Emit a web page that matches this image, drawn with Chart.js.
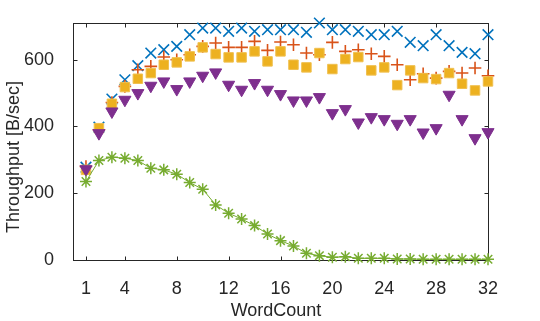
<!DOCTYPE html>
<html>
<head>
<meta charset="utf-8">
<script src="https://cdn.jsdelivr.net/npm/chart.js@4/dist/chart.umd.min.js"></script>
<style>
  body { margin: 0; background: #fff; }
  #wrap { width: 540px; height: 321px; }
</style>
</head>
<body>
<div id="wrap"><canvas id="chart"></canvas></div>
<script>
// --- data ---
const wordCount = [1, 2, 3, 4, 5, 6, 7, 8, 9, 10, 11, 12, 13, 14, 15, 16,
                   17, 18, 19, 20, 21, 22, 23, 24, 25, 26, 27, 28, 29, 30, 31, 32];
const seriesBlue   = [278, 398, 482, 540, 582, 620, 630, 640, 675, 695, 695, 685, 695, 685, 690, 690,
                      690, 682, 710, 690, 690, 685, 675, 675, 685, 652, 642, 675, 642, 622, 618, 675];
const seriesOrange = [280, 390, 472, 520, 570, 580, 608, 600, 615, 640, 650, 637, 637, 655, 628, 653,
                      645, 620, 615, 652, 625, 630, 618, 610, 585, 540, 558, 545, 565, 560, 575, 552];
const seriesYellow = [270, 395, 468, 518, 543, 560, 585, 592, 610, 637, 617, 607, 607, 625, 595, 625,
                      585, 577, 620, 572, 602, 608, 568, 577, 524, 568, 545, 542, 560, 528, 508, 535];
const seriesPurple = [272, 380, 445, 480, 500, 522, 535, 512, 535, 552, 562, 525, 510, 530, 510, 497,
                      478, 478, 488, 440, 452, 412, 428, 422, 408, 422, 382, 395, 495, 422, 365, 383];
const seriesGreen  = [235, 298, 308, 305, 298, 275, 270, 257, 232, 212, 165, 140, 123, 103, 78, 58,
                      42, 20, 13, 8, 10, 5, 5, 5, 3, 3, 2, 2, 2, 2, 2, 2];
const xTicks = [1, 4, 8, 12, 16, 20, 24, 28, 32];
const yTicks = [0, 200, 400, 600];

const FONT = '"Liberation Sans", Arial, sans-serif';
const INK = '#262626';

function pts(values) {
    return values.map((v, i) => ({ x: wordCount[i], y: v }));
}

// box, inward ticks and axis titles (matlab look)
const framePlugin = {
    id: 'frame',
    beforeDatasetsDraw(chart) {
        const { ctx, chartArea, scales } = chart;
        const l = Math.round(chartArea.left) + 0.5;
        const r = Math.round(chartArea.right) + 0.5;
        const t = Math.round(chartArea.top) + 0.5;
        const b = Math.round(chartArea.bottom) + 0.5;
        const tl = 4;
        ctx.save();
        ctx.strokeStyle = INK;
        ctx.lineWidth = 1;
        ctx.strokeRect(l, t, r - l, b - t);
        ctx.beginPath();
        xTicks.forEach(v => {
            const px = Math.round(scales.x.getPixelForValue(v)) + 0.5;
            ctx.moveTo(px, b); ctx.lineTo(px, b - tl);
            ctx.moveTo(px, t); ctx.lineTo(px, t + tl);
        });
        yTicks.forEach(v => {
            const py = Math.round(scales.y.getPixelForValue(v)) + 0.5;
            ctx.moveTo(l, py); ctx.lineTo(l + tl, py);
            ctx.moveTo(r, py); ctx.lineTo(r - tl, py);
        });
        ctx.stroke();

        ctx.fillStyle = INK;
        ctx.font = '18px ' + FONT;
        ctx.textAlign = 'center';
        ctx.textBaseline = 'alphabetic';
        ctx.fillText('WordCount', 276, 316);
        ctx.translate(19, 157);
        ctx.rotate(-Math.PI / 2);
        ctx.fillText('Throughput [B/sec]', 0, 0);
        ctx.restore();
    }
};

const ctx = document.getElementById('chart').getContext('2d');
new Chart(ctx, {
    type: 'scatter',
    data: {
        datasets: [
            {
                label: 'blue', data: pts(seriesBlue), order: 5,
                pointStyle: 'crossRot', pointRadius: 7.5, pointBorderWidth: 1.6,
                borderColor: '#0072BD', backgroundColor: '#0072BD'
            },
            {
                label: 'orange', data: pts(seriesOrange), order: 4,
                pointStyle: 'cross', pointRadius: 6.3, pointBorderWidth: 1.6,
                borderColor: '#D95319', backgroundColor: '#D95319'
            },
            {
                label: 'yellow', data: pts(seriesYellow), order: 3,
                pointStyle: 'rect', pointRadius: 6.7, pointBorderWidth: 1,
                borderColor: '#F0C050', backgroundColor: '#EDB120'
            },
            {
                label: 'purple', data: pts(seriesPurple), order: 2,
                pointStyle: 'triangle', rotation: 180, pointRadius: 7, pointBorderWidth: 1,
                borderColor: '#7E2F8E', backgroundColor: '#7E2F8E'
            },
            {
                label: 'green', data: pts(seriesGreen), order: 1,
                showLine: true, borderWidth: 1, borderColor: '#77AC30',
                pointStyle: 'star', pointRadius: 6, pointBorderWidth: 1.5,
                pointBorderColor: '#77AC30', backgroundColor: '#77AC30'
            }
        ]
    },
    options: {
        responsive: true,
        maintainAspectRatio: false,
        animation: false,
        clip: false,
        layout: { padding: { top: 23, right: 52, left: 0, bottom: 0 } },
        plugins: {
            legend: { display: false },
            tooltip: { enabled: false }
        },
        scales: {
            x: {
                type: 'linear', min: 0, max: 32,
                grid: { display: false },
                border: { display: false },
                afterBuildTicks: s => { s.ticks = xTicks.map(v => ({ value: v })); },
                afterFit: s => { s.height = 61; },
                ticks: { color: INK, padding: 10, font: { family: FONT, size: 18 } }
            },
            y: {
                type: 'linear', min: 0, max: 710,
                grid: { display: false },
                border: { display: false },
                afterBuildTicks: s => { s.ticks = yTicks.map(v => ({ value: v })); },
                afterFit: s => { s.width = 73; },
                ticks: { color: INK, padding: 11, font: { family: FONT, size: 18 } }
            }
        }
    },
    plugins: [framePlugin]
});
</script>
</body>
</html>
